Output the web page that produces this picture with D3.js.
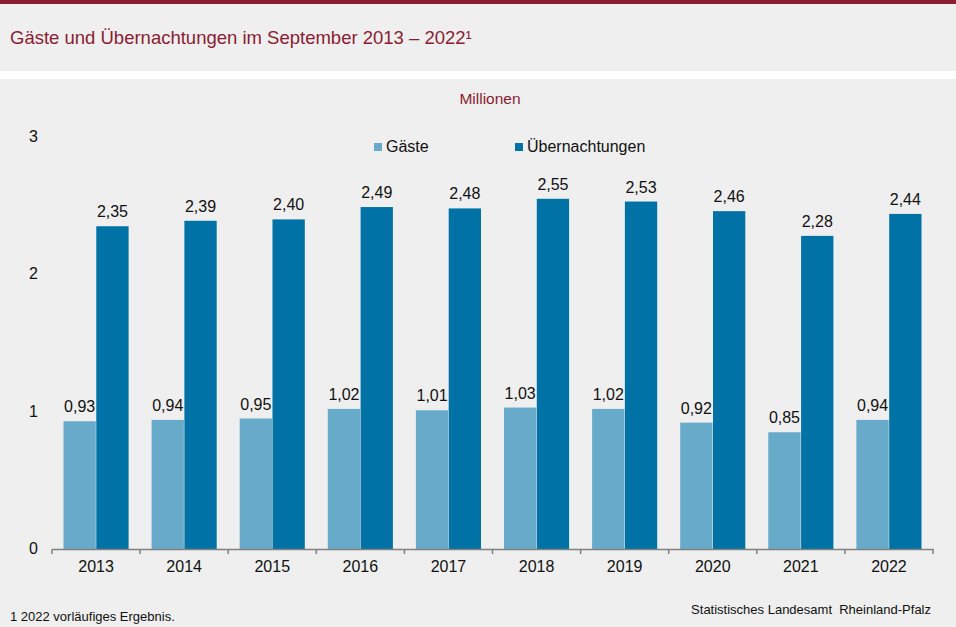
<!DOCTYPE html>
<html>
<head>
<meta charset="utf-8">
<script src="https://cdn.jsdelivr.net/npm/d3@7"></script>
<style>
  body { margin: 0; background: #eeefee; }
  svg { display: block; font-family: "Liberation Sans", Arial, sans-serif; }
</style>
</head>
<body>
<div class="chart"></div>
<script>
var years = ['2013', '2014', '2015', '2016', '2017', '2018', '2019', '2020', '2021', '2022']
var gaeste = [0.93, 0.94, 0.95, 1.02, 1.01, 1.03, 1.02, 0.92, 0.85, 0.94]
var uebernachtungen = [2.35, 2.39, 2.40, 2.49, 2.48, 2.55, 2.53, 2.46, 2.28, 2.44]
var seriesNames = ['Gäste', 'Übernachtungen']
var yTicks = [0, 1, 2, 3]

var W = 956, H = 627
var colors = ['#67aac9', '#0072a5']
var red = '#8b1c32'
var fmt = function (v) { return d3.format('.2f')(v).replace('.', ',') }

var svg = d3.select('.chart')
  .append('svg')
    .attr('width', W)
    .attr('height', H)

// backgrounds
svg.append('rect').attr('width', W).attr('height', H).attr('fill', '#eeefee')
svg.append('rect').attr('width', W).attr('height', 4).attr('fill', red)
svg.append('rect').attr('y', 71).attr('width', W).attr('height', 8).attr('fill', '#ffffff')

svg.append('text')
  .attr('x', 10).attr('y', 44)
  .attr('fill', red)
  .attr('font-size', 18.5)
  .text('Gäste und Übernachtungen im September 2013 – 2022¹')

svg.append('text')
  .attr('x', 490).attr('y', 104)
  .attr('text-anchor', 'middle')
  .attr('fill', red)
  .attr('font-size', 15.5)
  .text('Millionen')

var margin = { left: 52, right: 23, bottom: 78 }
var x0 = d3.scaleBand()
  .domain(years)
  .range([margin.left, W - margin.right])
  .paddingInner(0)
  .paddingOuter(0)

var x1 = d3.scaleBand()
  .domain([0, 1])
  .range([11.5, x0.bandwidth() - 11.5])
  .paddingInner(0.015)

var y = d3.scaleLinear()
  .domain([0, 3])
  .range([549, 137])

// y tick labels (no axis line)
svg.append('g')
  .selectAll('text')
  .data(yTicks)
  .join('text')
    .attr('x', 38)
    .attr('y', function (d) { return y(d) + 5 })
    .attr('text-anchor', 'end')
    .attr('font-size', 16)
    .attr('fill', '#111')
    .text(function (d) { return d })

var data = years.map(function (yr, i) {
  return { year: yr, vals: [gaeste[i], uebernachtungen[i]] }
})

var groups = svg.append('g')
  .selectAll('g')
  .data(data)
  .join('g')
    .attr('transform', function (d) { return 'translate(' + x0(d.year) + ',0)' })

groups.selectAll('rect')
  .data(function (d) { return d.vals })
  .join('rect')
    .attr('x', function (d, i) { return x1(i) })
    .attr('width', x1.bandwidth())
    .attr('y', function (d) { return y(d) })
    .attr('height', function (d) { return y(0) - y(d) })
    .attr('fill', function (d, i) { return colors[i] })

groups.selectAll('text')
  .data(function (d) { return d.vals })
  .join('text')
    .attr('x', function (d, i) { return x1(i) + x1.bandwidth() / 2 })
    .attr('y', function (d) { return y(d) - 9 })
    .attr('text-anchor', 'middle')
    .attr('font-size', 16)
    .attr('fill', '#111')
    .text(fmt)

// x axis
var xAxis = d3.axisBottom(x0)
  .tickSize(0)
  .tickPadding(12)

var gx = svg.append('g')
  .attr('transform', 'translate(0,' + y(0) + ')')
  .call(xAxis)
gx.select('.domain').attr('stroke', '#808080').attr('stroke-width', 1.5)
gx.selectAll('text').attr('font-size', 16).attr('fill', '#111')
  .attr('font-family', '"Liberation Sans", Arial, sans-serif')

// tick marks at band boundaries
var bounds = years.map(function (d) { return x0(d) }).concat([x0.range()[1]])
gx.selectAll('.bound')
  .data(bounds)
  .join('line')
    .attr('class', 'bound')
    .attr('x1', function (d) { return d }).attr('x2', function (d) { return d })
    .attr('y1', 0).attr('y2', 5)
    .attr('stroke', '#808080')
    .attr('stroke-width', 1.5)

// legend
var legendX = [374, 515]
var legend = svg.append('g')
  .selectAll('g')
  .data(seriesNames)
  .join('g')
    .attr('transform', function (d, i) { return 'translate(' + legendX[i] + ',143)' })
legend.append('rect')
  .attr('width', 8).attr('height', 8)
  .attr('fill', function (d, i) { return colors[i] })
legend.append('text')
  .attr('x', 12).attr('y', 9)
  .attr('font-size', 16)
  .attr('fill', '#111')
  .text(function (d) { return d })

// footer
svg.append('text')
  .attr('x', 10).attr('y', 621)
  .attr('font-size', 13)
  .attr('fill', '#111')
  .text('1 2022 vorläufiges Ergebnis.')

svg.append('text')
  .attr('x', 931).attr('y', 614)
  .attr('text-anchor', 'end')
  .attr('font-size', 13)
  .attr('fill', '#111')
  .attr('xml:space', 'preserve')
  .text('Statistisches Landesamt  Rheinland-Pfalz')
</script>
</body>
</html>
